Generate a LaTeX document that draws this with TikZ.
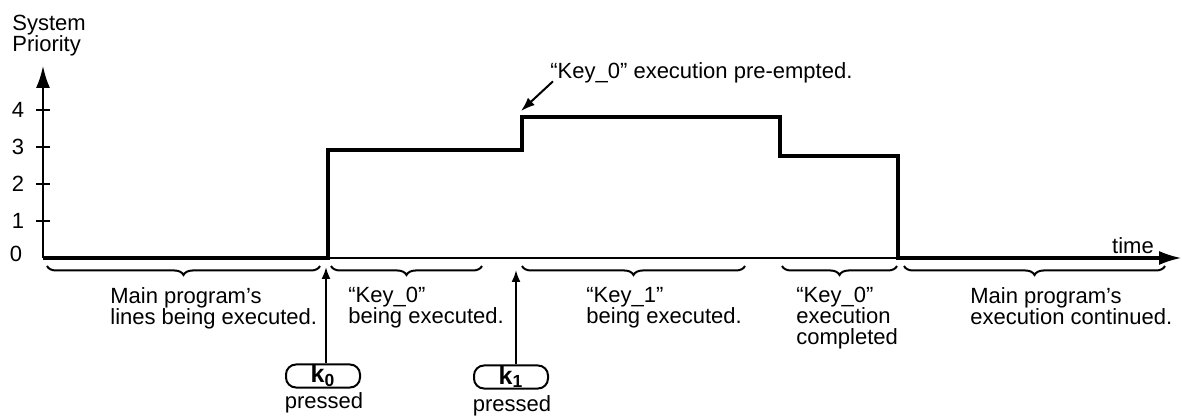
\documentclass[tikz,border=0pt]{standalone}
\usepackage{fontspec}
\setmainfont{Liberation Sans}
\usetikzlibrary{arrows.meta,decorations.pathreplacing}

\begin{document}
\begin{tikzpicture}[x=0.5pt,y=-0.5pt,
  lbl/.style={anchor=north west,align=left,inner sep=0pt,font=\fontsize{11}{10.5}\selectfont},
  txt/.style={inner sep=0pt,font=\fontsize{11}{10.5}\selectfont},
  keybox/.style={draw,line width=1pt,rounded corners=5pt,minimum width=37pt,minimum height=11.5pt,inner sep=0pt,font=\fontsize{12.5}{12.5}\selectfont\bfseries},
  trace/.style={line width=2.2pt},
  br/.style={decorate,decoration={brace,mirror,amplitude=4.5pt},line width=1pt},
  bigtip/.style={-{Latex[length=11pt,width=7pt]}},
  smalltip/.style={-{Latex[length=6pt,width=4.5pt]}}]
\useasboundingbox (0,0) rectangle (1182,416);

% axes
\node[lbl] (ylabel) at (12,15) {System\\Priority};
\coordinate (o) at (43,258);
\coordinate (ytop) at (43,66);
\coordinate (tend) at (1181,258);
\draw[line width=1pt,bigtip] (o) -- (ytop);
\draw[line width=1pt,bigtip] (o) -- (tend);
\node[txt] (time) at (1133,246) {time};
\foreach \v/\y in {1/221,2/184,3/147,4/110}{
  \draw[line width=1pt] (36,\y) -- (50,\y);
  \node[txt] (t\v) at (18,\y) {\v};
}
\node[txt] (t0) at (16,254) {0};

% priority trace
\draw[trace] (o) -- (328,258) -- (328,150) -- (522,150) -- (522,117)
  -- (780,117) -- (780,156) -- (898,156) -- (898,258) -- (1165,258);

% phases
\draw[br] (47,266) -- (320,266);
\draw[br] (331,266) -- (482,266);
\draw[br] (522,266) -- (745,266);
\draw[br] (782,266) -- (897,266);
\draw[br] (904,266) -- (1165,266);
\node[lbl] (mainA) at (110,287) {Main program’s\\lines being executed.};
\node[lbl] (keyA) at (348,287) {“Key\_0”\\being executed.};
\node[lbl] (keyB) at (586,287) {“Key\_1”\\being executed.};
\node[lbl] (keyC) at (796,287) {“Key\_0”\\execution\\completed};
\node[lbl] (mainB) at (970,287) {Main program’s\\execution continued.};

% key presses
\node[keybox] (k0) at (323,376) {k\textsubscript{0}};
\node[txt] (p0) at (324,403) {pressed};
\coordinate (k0t) at (326,267);
\draw[line width=1pt,smalltip] (k0.north -| k0t) -- (k0t);

\node[keybox] (k1) at (511,377) {k\textsubscript{1}};
\node[txt] (p1) at (512,406) {pressed};
\coordinate (k1t) at (516,270);
\draw[line width=1pt,smalltip] (k1.north -| k1t) -- (k1t);

% pre-emption
\node[lbl] (pre) at (550,62) {“Key\_0” execution pre-empted.};
\coordinate (pret) at (521,111);
\draw[line width=1pt,-{Latex[length=7pt,width=5pt]}] ([shift={(3,-2)}]pre.south west) -- (pret);
\end{tikzpicture}
\end{document}
